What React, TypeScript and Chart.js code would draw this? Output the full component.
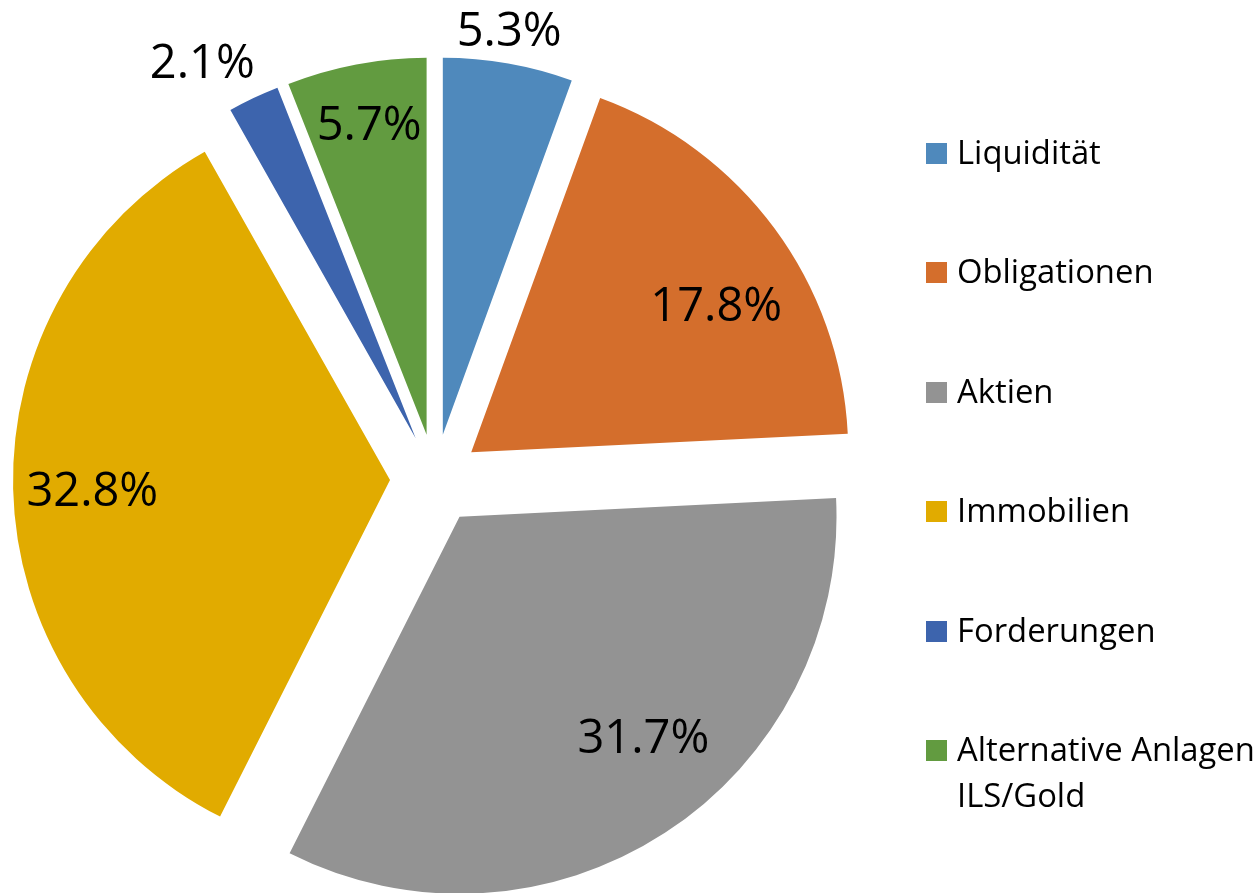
import React, { useEffect, useRef } from "react";
import { Chart, registerables } from "chart.js";

Chart.register(...registerables);

// ---- data ----
const categories = [
  "Liquidität",
  "Obligationen",
  "Aktien",
  "Immobilien",
  "Forderungen",
  "Alternative Anlagen ILS/Gold",
];
const shares = [5.3, 17.8, 31.7, 32.8, 2.1, 5.7];
const valueLabels = ["5.3%", "17.8%", "31.7%", "32.8%", "2.1%", "5.7%"];
const colors = ["#4F89BC", "#D46E2C", "#939393", "#E1AB00", "#3D64AD", "#629B40"];

// ---- style / placement ----
const FONT = '"Open Sans", "Noto Sans", sans-serif';
const EXPLODE = 45;
const PIE_RADIUS = 377;
const LABEL_RADIUS = [1.09, 0.76, 0.76, 0.79, 1.15, 0.84];
const LABEL_ANGLE_SHIFT = [-0.7, 5.2, -6.9, -0.4, -4.0, 0.3];
const LABEL_FONT_SIZE = 47;
const LEGEND_FONT_SIZE = 32.8;
const LEGEND_BOX_X = 926;
const LEGEND_TEXT_X = 957;
const LEGEND_FIRST_BASELINE = 164;
const LEGEND_STEP = 119.4;
const LEGEND_LINE_HEIGHT = 46;
const LEGEND_BOX = 21;
const LEGEND_MAX_WIDTH = 302;

const explodePlugin = {
  id: "explodeSlices",
  beforeDatasetDraw(chart: any, args: any) {
    const ctx = chart.ctx;
    args.meta.data.forEach((arc: any) => {
      const mid = (arc.startAngle + arc.endAngle) / 2;
      ctx.save();
      ctx.translate(Math.cos(mid) * EXPLODE, Math.sin(mid) * EXPLODE);
      arc.draw(ctx);
      ctx.restore();
    });
    return false;
  },
};

const labelsPlugin = {
  id: "sliceLabels",
  afterDatasetsDraw(chart: any) {
    const ctx = chart.ctx;
    const meta = chart.getDatasetMeta(0);
    ctx.save();
    ctx.font = `${LABEL_FONT_SIZE}px ${FONT}`;
    ctx.fillStyle = "#000";
    ctx.textAlign = "center";
    ctx.textBaseline = "alphabetic";
    const capHalf = (LABEL_FONT_SIZE * 0.714) / 2;
    meta.data.forEach((arc: any, i: number) => {
      const mid = (arc.startAngle + arc.endAngle) / 2;
      const ax = arc.x + Math.cos(mid) * EXPLODE;
      const ay = arc.y + Math.sin(mid) * EXPLODE;
      const a = mid + (LABEL_ANGLE_SHIFT[i] * Math.PI) / 180;
      const r = arc.outerRadius * LABEL_RADIUS[i];
      ctx.fillText(valueLabels[i], ax + Math.cos(a) * r, ay + Math.sin(a) * r + capHalf);
    });
    ctx.restore();
  },
};

function wrap(ctx: CanvasRenderingContext2D, text: string, maxW: number): string[] {
  const words = text.split(" ");
  const lines: string[] = [];
  let cur = "";
  for (const w of words) {
    const t = cur ? cur + " " + w : w;
    if (cur && ctx.measureText(t).width > maxW) {
      lines.push(cur);
      cur = w;
    } else cur = t;
  }
  if (cur) lines.push(cur);
  return lines;
}

const legendPlugin = {
  id: "sideLegend",
  afterDraw(chart: any) {
    const ctx = chart.ctx;
    const labels: string[] = chart.data.labels;
    const bg: string[] = chart.data.datasets[0].backgroundColor;
    ctx.save();
    ctx.font = `${LEGEND_FONT_SIZE}px ${FONT}`;
    ctx.textAlign = "left";
    ctx.textBaseline = "alphabetic";
    labels.forEach((lab, i) => {
      const base = Math.round(LEGEND_FIRST_BASELINE + i * LEGEND_STEP);
      ctx.fillStyle = bg[i];
      ctx.fillRect(LEGEND_BOX_X, base - LEGEND_BOX, LEGEND_BOX, LEGEND_BOX);
      ctx.fillStyle = "#000";
      wrap(ctx, lab, LEGEND_MAX_WIDTH).forEach((line, k) => {
        ctx.fillText(line, LEGEND_TEXT_X, base + k * LEGEND_LINE_HEIGHT);
      });
    });
    ctx.restore();
  },
};

export default function App() {
  const ref = useRef<HTMLCanvasElement>(null);
  useEffect(() => {
    let chart: Chart | null = null;
    let cancelled = false;
    const make = () => {
      if (cancelled || !ref.current) return;
      chart = new Chart(ref.current, {
        type: "pie",
        data: {
          labels: categories,
          datasets: [
            {
              data: shares,
              backgroundColor: colors,
              borderWidth: 0,
              offset: 0,
              radius: PIE_RADIUS,
            } as any,
          ],
        },
        options: {
          responsive: false,
          animation: false,
          devicePixelRatio: 1,
          events: [],
          layout: { padding: { left: 0, right: 390, top: 65, bottom: 0 } },
          plugins: {
            legend: { display: false },
            tooltip: { enabled: false },
            title: { display: false },
          },
        },
        plugins: [explodePlugin, labelsPlugin, legendPlugin],
      });
    };
    const fonts = (document as any).fonts;
    if (fonts && fonts.load) {
      Promise.all([
        fonts.load(`${LABEL_FONT_SIZE}px "Open Sans"`),
        fonts.load(`${LEGEND_FONT_SIZE}px "Open Sans"`),
      ]).then(make, make);
    } else make();
    return () => {
      cancelled = true;
      if (chart) chart.destroy();
    };
  }, []);
  return (
    <div style={{ position: "absolute", left: 0, top: 0, width: 1260, height: 893, background: "#fff" }}>
      <canvas ref={ref} width={1260} height={893} style={{ display: "block", width: 1260, height: 893 }} />
    </div>
  );
}
